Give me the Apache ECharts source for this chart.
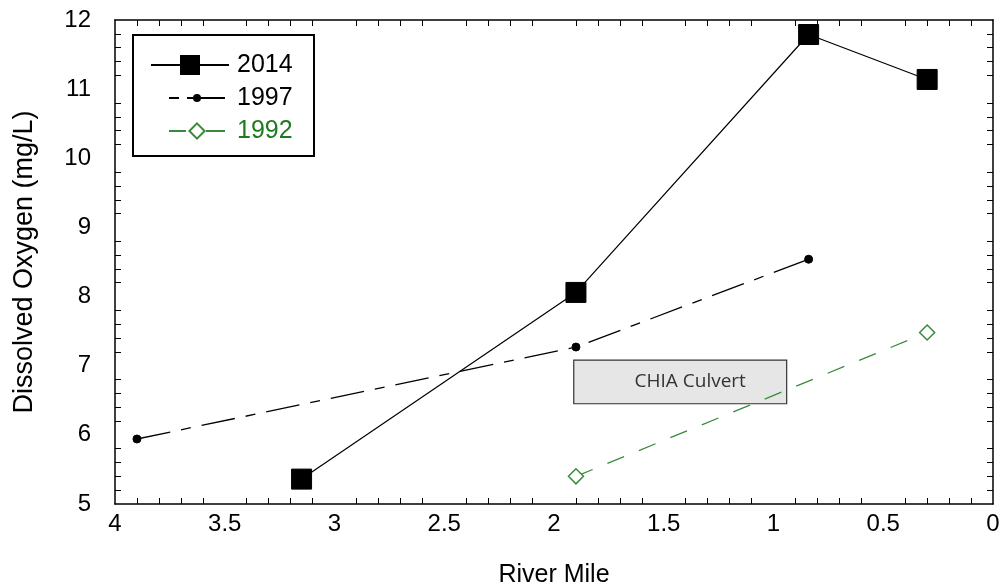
<!DOCTYPE html>
<html>
<head>
<meta charset="utf-8">
<script src="https://cdn.jsdelivr.net/npm/echarts@6/dist/echarts.min.js"></script>
<style>
html,body{margin:0;padding:0;background:#fff;}
#chart{width:1001px;height:585px;}
</style>
</head>
<body>
<div id="chart"></div>
<script>
// Data (River Mile, Dissolved Oxygen mg/L)
const seriesNames = ['2014', '1997', '1992'];
const data2014 = [[3.15, 5.36], [1.90, 8.06], [0.84, 11.79], [0.30, 11.14]];
const data1997 = [[3.90, 5.94], [1.90, 7.27], [0.84, 8.54]];
const data1992 = [[1.90, 5.40], [0.30, 7.48]];
const xTickValues = [0, 0.5, 1, 1.5, 2, 2.5, 3, 3.5, 4];
const xTickLabels = ['0', '0.5', '1', '1.5', '2', '2.5', '3', '3.5', '4'];
const yTickValues = [5, 6, 7, 8, 9, 10, 11, 12];
const yTickLabels = ['5', '6', '7', '8', '9', '10', '11', '12'];
const culvertLabel = 'CHIA Culvert';
const culvertBox = [[1.91, 7.08], [0.94, 6.45]];

// Minor tick positions (between the labelled values; the labelled values carry no tick)
function minorTicks(vals, n) {
  const out = [];
  for (let i = 0; i < vals.length - 1; i++) {
    const step = (vals[i + 1] - vals[i]) / n;
    for (let k = 1; k < n; k++) out.push(+(vals[i] + k * step).toFixed(4));
  }
  return out;
}
const xMinor = minorTicks(xTickValues, 5);
const yMinor = minorTicks(yTickValues, 5);

const FONT = '"Liberation Sans", Arial, sans-serif';
const GREEN = '#3b8a3b';
const GREEN_TEXT = '#1f7a1f';

const chart = echarts.init(document.getElementById('chart'), null, {renderer: 'canvas'});

const commonX = {
  type: 'value', min: 0, max: 4, interval: 0.5, inverse: true,
  axisLine: {show: true, onZero: false, lineStyle: {color: '#000', width: 1.5}},
  axisTick: {show: true, inside: true, length: 6, customValues: xMinor, lineStyle: {color: '#000', width: 1}},
  splitLine: {show: false}
};
const commonY = {
  type: 'value', min: 5, max: 12, interval: 1,
  axisLine: {show: true, onZero: false, lineStyle: {color: '#000', width: 1.5}},
  axisTick: {show: true, inside: true, length: 6, customValues: yMinor, lineStyle: {color: '#000', width: 1}},
  splitLine: {show: false}
};

const legendText = {fontFamily: FONT, fontSize: 25, color: '#000'};

const option = {
  backgroundColor: '#fff',
  animation: false,
  grid: {left: 115, right: 8, top: 20, bottom: 81, containLabel: false, outerBoundsMode: 'none'},
  graphic: [{
    type: 'rect', left: 132, top: 34, z: 1,
    shape: {width: 181, height: 121},
    style: {fill: '#fff', stroke: '#000', lineWidth: 2}
  }],
  legend: [
    {
      orient: 'vertical', left: 150, top: 52.5, padding: 0, z: 10,
      itemWidth: 78, itemHeight: 25,
      textStyle: Object.assign({}, legendText, {padding: [0, 0, 0, 3]}),
      data: [{name: seriesNames[0]}]
    },
    {
      orient: 'vertical', left: 168, top: 85.5, padding: 0, z: 10,
      itemWidth: 56, itemHeight: 10,
      textStyle: Object.assign({}, legendText, {padding: [0, 0, 0, 7]}),
      data: [{name: seriesNames[1], lineStyle: {type: [10, 8, 60, 0]}}]
    },
    {
      orient: 'vertical', left: 168, top: 118.5, padding: 0, z: 10,
      itemWidth: 56, itemHeight: 19,
      textStyle: Object.assign({}, legendText, {color: GREEN_TEXT, padding: [0, 0, 0, 7]}),
      data: [{name: seriesNames[2], lineStyle: {type: [17, 20, 60, 0]}}]
    }
  ],
  xAxis: [
    Object.assign({}, commonX, {
      position: 'bottom',
      name: 'River Mile', nameLocation: 'middle', nameGap: 59,
      nameTextStyle: {fontFamily: FONT, fontSize: 25, color: '#000'},
      axisLabel: {fontFamily: FONT, fontSize: 24, color: '#000', margin: 8,
        customValues: xTickValues,
        formatter: v => xTickLabels[xTickValues.indexOf(+(+v).toFixed(4))]}
    }),
    Object.assign({}, commonX, {position: 'top', axisLabel: {show: false}})
  ],
  yAxis: [
    Object.assign({}, commonY, {
      position: 'left',
      name: 'Dissolved Oxygen (mg/L)', nameLocation: 'middle', nameGap: 77,
      nameTextStyle: {fontFamily: FONT, fontSize: 27, color: '#000'},
      axisLabel: {fontFamily: FONT, fontSize: 24, color: '#000', margin: 24, verticalAlign: 'middle',
        customValues: yTickValues,
        formatter: v => yTickLabels[yTickValues.indexOf(+(+v).toFixed(4))]}
    }),
    Object.assign({}, commonY, {position: 'right', axisLabel: {show: false}})
  ],
  series: [
    {
      name: seriesNames[0], type: 'line', data: data2014,
      symbol: 'rect', symbolSize: 20, showSymbol: true,
      lineStyle: {color: '#000', width: 1.2},
      itemStyle: {color: '#000', borderColor: '#000'},
      z: 5
    },
    {
      name: seriesNames[1], type: 'line', data: data1997,
      symbol: 'circle', symbolSize: 8,
      lineStyle: {color: '#000', width: 1.3, type: [34, 11, 10, 11]},
      itemStyle: {color: '#000', borderColor: '#000'},
      z: 4
    },
    {
      name: seriesNames[2], type: 'line', data: data1992,
      symbol: 'diamond', symbolSize: 15,
      lineStyle: {color: GREEN, width: 1.3, type: [18, 16]},
      itemStyle: {color: '#fff', borderColor: GREEN, borderWidth: 1.5},
      markArea: {
        silent: true,
        itemStyle: {color: '#e6e6e6', borderColor: '#333', borderWidth: 1.2},
        label: {show: true, position: 'inside', offset: [10, 0],
          fontFamily: '"Open Sans", "Noto Sans", sans-serif', fontSize: 19, color: '#333'},
        data: [[
          {name: culvertLabel, coord: culvertBox[0]},
          {coord: culvertBox[1]}
        ]]
      },
      z: 3
    }
  ]
};
chart.setOption(option);
</script>
</body>
</html>
